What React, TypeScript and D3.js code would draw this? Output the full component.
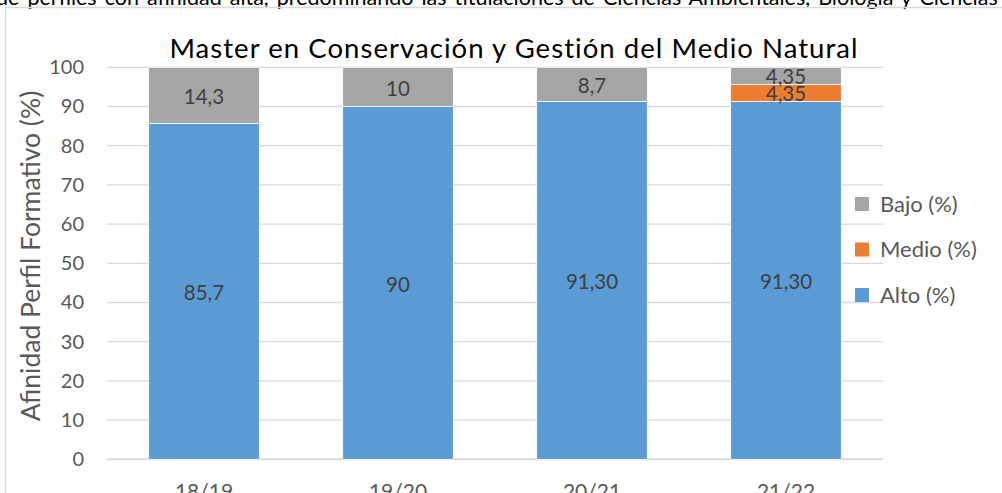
import { useEffect, useRef } from 'react';
import * as d3 from 'd3';

const categories = ['18/19', '19/20', '20/21', '21/22'];
const alto = [85.7, 90, 91.3, 91.3];
const medio = [0, 0, 0, 4.35];
const bajo = [14.3, 10, 8.7, 4.35];
const altoLabels = ['85,7', '90', '91,30', '91,30'];
const medioLabels = ['', '', '', '4,35'];
const bajoLabels = ['14,3', '10', '8,7', '4,35'];
const yTicks = [0, 10, 20, 30, 40, 50, 60, 70, 80, 90, 100];

const seriesKeys = ['alto', 'medio', 'bajo'];
const seriesNames: Record<string, string> = {
  alto: 'Alto (%)',
  medio: 'Medio (%)',
  bajo: 'Bajo (%)',
};
const seriesColors: Record<string, string> = {
  alto: '#5b9bd5',
  medio: '#ed7d31',
  bajo: '#a5a5a5',
};
const seriesLabels: Record<string, string[]> = {
  alto: altoLabels,
  medio: medioLabels,
  bajo: bajoLabels,
};

const FONT = 'Lato, Carlito, Calibri, sans-serif';

export default function App() {
  const svgRef = useRef<SVGSVGElement>(null);

  useEffect(() => {
    if (!svgRef.current) return;

    const width = 1002;
    const height = 493;
    const margin = { top: 67.3, right: 119, bottom: 33.7, left: 107 };

    const svg = d3.select(svgRef.current);
    svg.selectAll('*').remove();

    // text of the page cut off above the chart
    svg
      .append('text')
      .attr('x', -4)
      .attr('y', 5)
      .attr('font-family', FONT)
      .attr('font-size', 21.5)
      .attr('word-spacing', 2.5)
      .attr('fill', '#000')
      .text(
        'de perfiles con afinidad alta, predominando las titulaciones de Ciencias Ambientales, Biología y Ciencias del Mar.'
      );

    // chart frame
    svg
      .append('rect')
      .attr('x', 5.5)
      .attr('y', 7.5)
      .attr('width', 1010)
      .attr('height', 500)
      .attr('fill', 'none')
      .attr('stroke', '#d9d9d9')
      .attr('stroke-width', 1.5);

    const chartWidth = width - margin.left - margin.right;
    const chartHeight = height - margin.top - margin.bottom;

    const xScale = d3
      .scaleBand()
      .domain(categories)
      .range([0, chartWidth])
      .paddingInner(0.43)
      .paddingOuter(0.215);

    const yScale = d3.scaleLinear().domain([0, 100]).range([chartHeight, 0]);

    const chart = svg
      .append('g')
      .attr('transform', `translate(${margin.left}, ${margin.top})`);

    // gridlines
    chart
      .selectAll('line.grid')
      .data(yTicks)
      .enter()
      .append('line')
      .attr('class', 'grid')
      .attr('x1', 0)
      .attr('x2', chartWidth)
      .attr('y1', (d) => yScale(d))
      .attr('y2', (d) => yScale(d))
      .attr('stroke', '#d9d9d9')
      .attr('stroke-width', (d) => (d === 0 ? 2 : 1.3));

    // y tick labels
    chart
      .selectAll('text.ytick')
      .data(yTicks)
      .enter()
      .append('text')
      .attr('class', 'ytick')
      .attr('x', -23)
      .attr('y', (d) => yScale(d))
      .attr('dy', '0.35em')
      .attr('text-anchor', 'end')
      .attr('font-family', FONT)
      .attr('font-size', 20)
      .attr('fill', '#595959')
      .text((d) => d);

    const rows = categories.map((c, i) => ({
      category: c,
      alto: alto[i],
      medio: medio[i],
      bajo: bajo[i],
      index: i,
    }));

    const stacked = d3.stack<any>().keys(seriesKeys)(rows);

    stacked.forEach((layer) => {
      const key = layer.key;
      chart
        .selectAll(`rect.${key}`)
        .data(layer)
        .enter()
        .append('rect')
        .attr('class', key)
        .attr('x', (d) => xScale(d.data.category)!)
        .attr('y', (d) => yScale(d[1]))
        .attr('width', xScale.bandwidth())
        .attr('height', (d) => yScale(d[0]) - yScale(d[1]))
        .attr('fill', seriesColors[key])
        .attr('stroke', '#fff')
        .attr('stroke-width', (d) => (d[1] - d[0] > 0 ? 0.75 : 0));

      chart
        .selectAll(`text.${key}`)
        .data(layer)
        .enter()
        .append('text')
        .attr('class', key)
        .attr('x', (d) => xScale(d.data.category)! + xScale.bandwidth() / 2)
        .attr('y', (d) => (yScale(d[0]) + yScale(d[1])) / 2)
        .attr('dy', '0.42em')
        .attr('text-anchor', 'middle')
        .attr('font-family', FONT)
        .attr('font-size', 20.5)
        .attr('fill', '#404040')
        .text((d) => seriesLabels[key][d.data.index]);
    });

    // x labels (cut off at the bottom)
    chart
      .selectAll('text.xtick')
      .data(categories)
      .enter()
      .append('text')
      .attr('class', 'xtick')
      .attr('x', (d) => xScale(d)! + xScale.bandwidth() / 2)
      .attr('y', chartHeight + 40)
      .attr('text-anchor', 'middle')
      .attr('font-family', FONT)
      .attr('font-size', 21)
      .attr('fill', '#595959')
      .text((d) => d);

    // y axis title
    svg
      .append('text')
      .attr('transform', 'translate(40, 256) rotate(-90)')
      .attr('text-anchor', 'middle')
      .attr('font-family', FONT)
      .attr('font-size', 26.5)
      .attr('fill', '#595959')
      .text('Afinidad Perfil Formativo (%)');

    // title
    svg
      .append('text')
      .attr('x', 514)
      .attr('y', 58)
      .attr('text-anchor', 'middle')
      .attr('font-family', FONT)
      .attr('font-size', 27.5)
      .attr('letter-spacing', 1.05)
      .attr('fill', '#000')
      .text('Master en Conservación y Gestión del Medio Natural');

    // legend
    const legendKeys = [...seriesKeys].reverse();
    const legend = svg
      .selectAll('g.legend')
      .data(legendKeys)
      .enter()
      .append('g')
      .attr('class', 'legend')
      .attr('transform', (_d, i) => `translate(855, ${204 + i * 45.5})`);

    legend
      .append('rect')
      .attr('x', 0)
      .attr('y', -7)
      .attr('width', 14)
      .attr('height', 14)
      .attr('fill', (d) => seriesColors[d]);

    legend
      .append('text')
      .attr('x', 25)
      .attr('y', 0)
      .attr('dy', '0.36em')
      .attr('font-family', FONT)
      .attr('font-size', 22)
      .attr('fill', '#595959')
      .text((d) => seriesNames[d]);
  }, []);

  return (
    <svg
      ref={svgRef}
      width={1002}
      height={493}
      style={{ position: 'absolute', left: 0, top: 0, background: '#fff' }}
    ></svg>
  );
}
